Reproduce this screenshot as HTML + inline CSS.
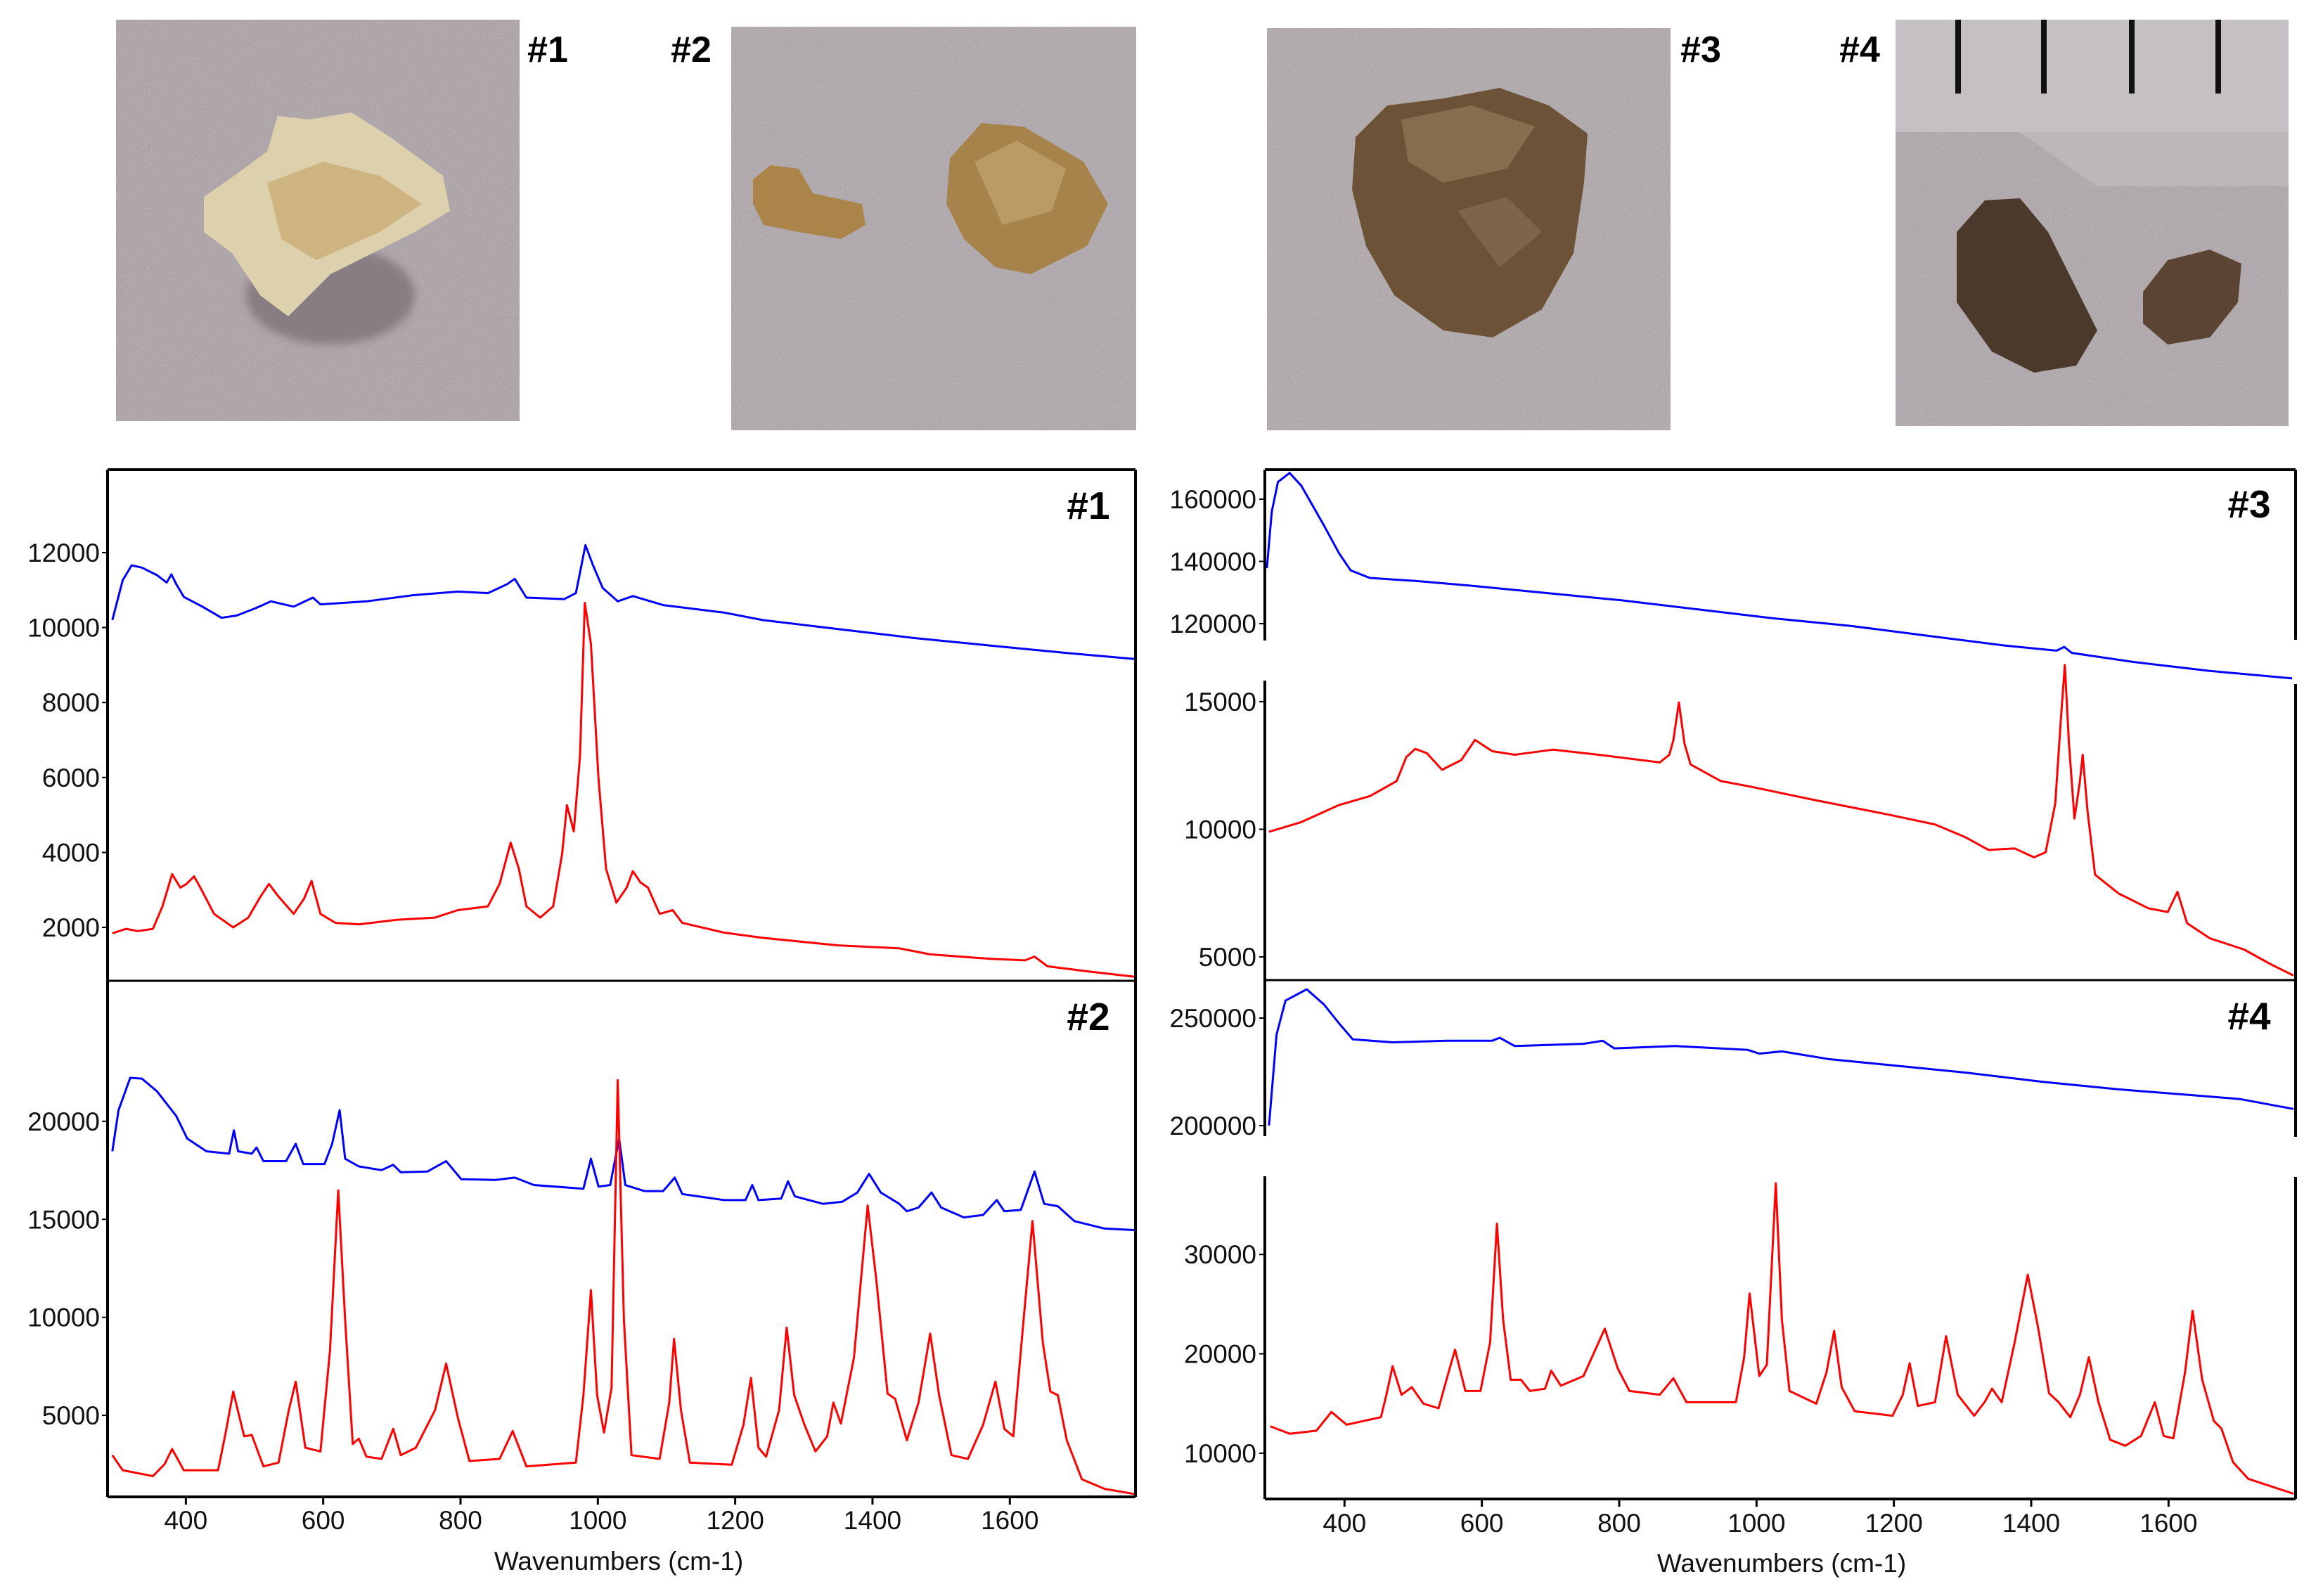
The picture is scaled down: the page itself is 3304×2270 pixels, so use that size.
<!DOCTYPE html>
<html><head><meta charset="utf-8"><style>
html,body{margin:0;padding:0;background:#fff;}
body{width:3304px;height:2270px;position:relative;overflow:hidden;font-family:"Liberation Sans",Arial,sans-serif;}
svg{position:absolute;left:0;top:0;}
</style></head><body>
<svg id="fig" width="3304" height="2270" viewBox="0 0 3304 2270" xmlns="http://www.w3.org/2000/svg">
<defs>
<filter id="speckle" x="0" y="0" width="100%" height="100%">
<feTurbulence type="fractalNoise" baseFrequency="0.9" numOctaves="2" seed="3" result="n"/>
<feColorMatrix type="matrix" values="0 0 0 0 1  0 0 0 0 1  0 0 0 0 1  1.2 0 0 0 -0.45" in="n"/>
</filter>
<filter id="blur6"><feGaussianBlur stdDeviation="6"/></filter>
</defs>
<g id="photos">
<g>
<rect x="165" y="28" width="574" height="571" fill="#a79ea2"/>
<rect x="165" y="28" width="574" height="571" filter="url(#speckle)" opacity="0.55"/>
<ellipse cx="470" cy="420" rx="120" ry="70" fill="#6e6468" opacity="0.6" filter="url(#blur6)"/>
<path d="M290 280 L340 245 L380 215 L395 165 L440 170 L500 160 L555 195 L630 250 L640 300 L590 330 L530 360 L470 390 L410 450 L370 420 L330 360 L290 330 Z" fill="#ddd0ad"/>
<path d="M380 260 L460 230 L540 250 L600 290 L540 330 L450 370 L400 340 Z" fill="#c9ad75" opacity="0.8"/>
</g>
<g>
<rect x="1040" y="38" width="576" height="574" fill="#a9a2a6"/>
<rect x="1040" y="38" width="576" height="574" filter="url(#speckle)" opacity="0.55"/>
<path d="M1071 255 L1096 235 L1136 240 L1156 275 L1226 290 L1231 320 L1196 340 L1136 330 L1086 320 L1071 290 Z" fill="#aa8448"/>
<path d="M1351 225 L1396 175 L1456 180 L1541 230 L1576 290 L1546 350 L1466 390 L1416 380 L1371 340 L1346 290 Z" fill="#a5834a"/>
<path d="M1386 230 L1446 200 L1516 240 L1496 300 L1426 320 Z" fill="#c3a470" opacity="0.7"/>
</g>
<g>
<rect x="1802" y="40" width="574" height="572" fill="#aaa3a6"/>
<rect x="1802" y="40" width="574" height="572" filter="url(#speckle)" opacity="0.55"/>
<path d="M1928 195 L1973 150 L2053 140 L2133 125 L2203 150 L2258 190 L2253 260 L2238 360 L2193 440 L2123 480 L2053 470 L1983 420 L1943 350 L1923 270 Z" fill="#6c5337"/>
<path d="M1993 170 L2093 150 L2183 180 L2143 240 L2053 260 L2003 230 Z" fill="#8e7454" opacity="0.8"/>
<path d="M2073 300 L2143 280 L2193 330 L2133 380 Z" fill="#8a7255" opacity="0.6"/>
</g>
<g>
<rect x="2696" y="28" width="559" height="578" fill="#a9a2a6"/>
<rect x="2696" y="28" width="559" height="578" filter="url(#speckle)" opacity="0.55"/>
<rect x="2696" y="28" width="559" height="160" fill="#c5c0c3"/>
<path d="M2873 188 L3255 188 L3255 265 L2983 265 Z" fill="#bdb7ba"/>
<rect x="2781" y="28" width="8" height="105" fill="#111"/>
<rect x="2903" y="28" width="8" height="105" fill="#111"/>
<rect x="3028" y="28" width="8" height="105" fill="#111"/>
<rect x="3151" y="28" width="8" height="105" fill="#111"/>
<path d="M2783 330 L2823 285 L2873 282 L2913 330 L2983 470 L2953 520 L2893 530 L2833 500 L2783 430 Z" fill="#4b392b"/>
<path d="M3048 415 L3083 370 L3143 355 L3188 375 L3183 430 L3143 480 L3083 490 L3048 460 Z" fill="#5b4434"/>
</g>
<text x="779" y="88" font-size="52" font-weight="bold" text-anchor="middle">#1</text>
<text x="983" y="88" font-size="52" font-weight="bold" text-anchor="middle">#2</text>
<text x="2419" y="88" font-size="52" font-weight="bold" text-anchor="middle">#3</text>
<text x="2645" y="88" font-size="52" font-weight="bold" text-anchor="middle">#4</text>
</g>
<g id="charts"></g>
</svg>
<script>
// ---- data: wavenumber (cm-1) and intensity arrays ----
const xTicks = [400,600,800,1000,1200,1400,1600];
const s1BlueX = [293,308,321,336,358,372,379,386,397,424,452,474,502,524,557,585,596,663,729,796,840,868,879,896,951,968,982,993,1007,1029,1051,1095,1184,1240,1350,1461,1572,1683,1783];
const s1BlueY = [10200,11260,11660,11600,11400,11200,11420,11160,10820,10560,10260,10320,10520,10700,10560,10800,10620,10700,10860,10960,10920,11160,11300,10800,10760,10920,12200,11660,11060,10700,10840,10600,10400,10200,9960,9720,9520,9320,9160];
const s1RedX = [293,313,330,352,366,380,392,401,412,424,441,469,491,508,521,535,557,572,583,596,618,652,707,763,796,840,857,873,885,896,916,935,948,955,965,974,981,990,1001,1012,1027,1042,1051,1062,1073,1090,1109,1123,1184,1240,1350,1439,1484,1572,1622,1636,1655,1716,1783];
const s1RedY = [1840,1960,1900,1960,2560,3420,3060,3160,3360,2960,2360,2000,2260,2800,3160,2820,2360,2760,3240,2360,2120,2080,2200,2260,2460,2560,3160,4260,3560,2560,2260,2560,3960,5260,4560,6560,10660,9560,5960,3560,2660,3060,3500,3200,3060,2360,2460,2120,1860,1720,1520,1440,1280,1160,1120,1220,960,820,680];
const s2BlueX = [293,302,319,336,358,386,402,430,463,470,476,496,503,513,546,560,571,602,613,624,632,652,685,702,713,752,779,801,851,879,907,979,990,1001,1018,1031,1040,1068,1095,1112,1123,1184,1215,1225,1234,1267,1277,1287,1328,1356,1378,1395,1412,1439,1450,1467,1486,1500,1533,1561,1581,1592,1616,1636,1650,1670,1694,1738,1783];
const s2BlueY = [18470,20570,22220,22180,21530,20270,19120,18470,18350,19540,18470,18350,18660,17970,17970,18850,17820,17820,18850,20570,18090,17700,17510,17780,17400,17440,17970,17050,17010,17130,16750,16560,18090,16670,16750,19120,16750,16440,16440,17130,16290,15980,15980,16750,15980,16060,16940,16170,15790,15900,16370,17320,16370,15790,15410,15600,16370,15600,15100,15220,15980,15410,15480,17440,15790,15670,14910,14530,14450];
const s2RedX = [293,308,352,369,380,397,447,458,469,485,496,513,535,550,560,574,596,610,622,632,643,652,663,685,702,713,735,763,779,796,813,857,876,896,968,979,990,999,1009,1020,1029,1038,1049,1090,1104,1111,1121,1134,1195,1212,1223,1234,1245,1264,1275,1286,1301,1317,1334,1343,1354,1373,1393,1406,1422,1433,1450,1467,1484,1497,1515,1539,1561,1579,1592,1605,1620,1633,1648,1659,1670,1683,1705,1738,1783];
const s2RedY = [2970,2200,1900,2510,3280,2200,2200,4120,6220,3930,4000,2400,2590,5270,6720,3350,3160,8330,16480,9860,3540,3810,2890,2780,4310,2970,3350,5270,7640,4890,2670,2780,4200,2400,2590,6030,11390,6030,4120,6410,22100,9860,2970,2780,5650,8900,5270,2590,2480,4510,6910,3350,2890,5270,9480,6030,4510,3160,3930,5650,4580,7950,15710,11770,6110,5840,3730,5650,9170,6030,2970,2780,4510,6720,4310,3930,9860,14910,8710,6220,6030,3730,1740,1250,980];
const s3BlueX = [287,294,303,320,337,370,392,409,437,503,581,692,804,915,1026,1137,1248,1360,1437,1448,1459,1548,1660,1780];
const s3BlueY = [137830,155900,165540,168430,164340,151570,142650,137100,134700,133730,132280,129880,127470,124570,121680,119270,116140,113000,111320,112520,110600,107700,104810,102400];
const s3RedX = [290,337,392,437,476,490,503,520,542,570,590,615,648,704,770,859,873,879,887,895,904,948,993,1082,1193,1260,1304,1338,1376,1404,1421,1435,1443,1449,1455,1463,1471,1475,1482,1493,1527,1571,1599,1613,1627,1660,1710,1749,1782];
const s3RedY = [9900,10280,10950,11300,11890,12830,13150,12980,12330,12710,13500,13060,12920,13120,12920,12620,12920,13500,14970,13360,12540,11890,11660,11160,10570,10190,9690,9190,9250,8900,9100,11010,14240,16440,13360,10420,11890,12920,10720,8220,7490,6900,6760,7550,6320,5730,5290,4710,4270];
const s4BlueX = [290,301,314,345,370,392,412,470,548,615,626,648,748,776,793,881,987,1004,1037,1104,1193,1304,1415,1526,1637,1704,1782];
const s4BlueY = [200020,242260,258100,263380,256340,247540,240140,238740,239440,239440,240850,236980,238030,239440,235920,236980,235220,233460,234510,230990,228180,224660,220430,216910,214100,212340,207760];
const s4RedX = [292,320,359,381,403,453,461,470,483,498,515,537,550,561,576,598,612,622,631,642,657,670,692,701,715,748,779,798,815,859,879,898,970,982,990,1004,1015,1028,1037,1048,1087,1102,1113,1124,1143,1198,1213,1223,1235,1260,1276,1293,1317,1332,1343,1357,1376,1395,1410,1426,1440,1457,1471,1484,1498,1515,1537,1560,1580,1593,1607,1624,1635,1649,1666,1677,1694,1716,1749,1782];
const s4RedY = [12710,11960,12260,14150,12860,13620,15880,18750,15880,16640,14980,14520,17770,20410,16260,16260,21170,33100,23430,17390,17390,16260,16490,18300,16790,17770,22530,18520,16260,15880,17540,15130,15130,19660,26070,17770,18900,37170,23430,16260,14980,18150,22300,16640,14220,13770,15880,19050,14750,15130,21770,15880,13770,15130,16490,15130,21170,27960,22680,16030,15130,13620,15880,19660,15130,11350,10750,11730,15130,11730,11500,18150,24340,17390,13240,12480,9090,7420,6670,5920];
const p1Ticks = [2000,4000,6000,8000,10000,12000];
const p2Ticks = [5000,10000,15000,20000];
const p3bTicks = [120000,140000,160000];
const p3rTicks = [5000,10000,15000];
const p4bTicks = [200000,250000];
const p4rTicks = [10000,20000,30000];

// ---- layout ----
const NS = 'http://www.w3.org/2000/svg';
const root = document.getElementById('charts');
function mk(tag, attrs, parent){const e=document.createElementNS(NS,tag);for(const k in attrs)e.setAttribute(k,attrs[k]);(parent||root).appendChild(e);return e;}
function xScale(x0,x1,d0,d1){return v=>x0+(v-d0)/(d1-d0)*(x1-x0);}
function yScale(top,bot,dmin,dmax){return v=>bot-(v-dmin)/(dmax-dmin)*(bot-top);}
const L={x0:153,x1:1615}, R={x0:1799,x1:3265};
const xL=xScale(L.x0,L.x1,286,1783), xR=xScale(R.x0,R.x1,284,1785);

function series(xs,ys,sx,sy,color,name){
  let d='';
  for(let i=0;i<xs.length;i++){d+=(i?'L':'M')+sx(xs[i]).toFixed(1)+' '+sy(ys[i]).toFixed(1);}
  const p=mk('path',{d:d,fill:'none',stroke:color,'stroke-width':3,'stroke-linejoin':'round'});
  
  
}
function yAxis(x,top,bot,sy,ticks,name,labelX){
  const g=mk('g',{});
  
  
  mk('line',{x1:x,y1:top,x2:x,y2:bot,stroke:'#000','stroke-width':4},g);
  ticks.forEach(t=>{
    const y=sy(t);
    mk('line',{x1:x-8,y1:y,x2:x,y2:y,stroke:'#000','stroke-width':2},g);
    const tx=mk('text',{x:labelX,y:y+13,'font-size':37,'text-anchor':'end',fill:'#111'},g);
    tx.textContent=t;
    
    
  });
}
function xAxisLabels(sx,axisY,y,cx,ty){
  xTicks.forEach(t=>{
    mk('line',{x1:sx(t),y1:axisY,x2:sx(t),y2:axisY+11,stroke:'#000','stroke-width':3});
    const tx=mk('text',{x:sx(t),y:y,'font-size':37,'text-anchor':'middle',fill:'#111'});
    tx.textContent=t;
    
    
  });
  const tt=mk('text',{x:cx,y:ty,'font-size':37,'text-anchor':'middle',fill:'#111'});
  tt.textContent='Wavenumbers (cm-1)';
  
  
}
function hline(x1,x2,y,w){mk('line',{x1:x1,y1:y,x2:x2,y2:y,stroke:'#000','stroke-width':w||3});}
function vline(x,y1,y2){mk('line',{x1:x,y1:y1,x2:x,y2:y2,stroke:'#000','stroke-width':4});}
function label(txt,x,y,name){const t=mk('text',{x:x,y:y,'font-size':55,'font-weight':'bold','text-anchor':'middle'});t.textContent=txt;}

// Left: panel #1 and #2
const y1=yScale(668,1395,574,14214);
const y2=yScale(1395,2129,842,27168);
series(s1BlueX,s1BlueY,xL,y1,'#0000ff','spectrum-1-blue');
series(s1RedX,s1RedY,xL,y1,'#ff0000','spectrum-1-red');
series(s2BlueX,s2BlueY,xL,y2,'#0000ff','spectrum-2-blue');
series(s2RedX,s2RedY,xL,y2,'#ff0000','spectrum-2-red');
hline(L.x0,L.x1,668,4);hline(L.x0,L.x1,1395,3);hline(L.x0,L.x1,2129,4);vline(L.x1,668,2129);
yAxis(L.x0,668,1395,y1,p1Ticks,'y-axis-panel-1',142);
yAxis(L.x0,1395,2129,y2,p2Ticks,'y-axis-panel-2',142);
label('#1',1548,738,'panel-label-1');
label('#2',1548,1465,'panel-label-2');
xAxisLabels(xL,2129,2175,880,2233);

// Right: panel #3 and #4
const y3b=yScale(668,911,114576,169492);
const y3r=yScale(968,1393,4118,15826);
const y4b=yScale(1393,1616,195098,267974);
const y4r=yScale(1673,2132,5390,37872);
series(s3BlueX,s3BlueY,xR,y3b,'#0000ff','spectrum-3-blue');
series(s3RedX,s3RedY,xR,y3r,'#ff0000','spectrum-3-red');
series(s4BlueX,s4BlueY,xR,y4b,'#0000ff','spectrum-4-blue');
series(s4RedX,s4RedY,xR,y4r,'#ff0000','spectrum-4-red');
hline(R.x0,R.x1,668,4);hline(R.x0,R.x1,1394,3);hline(R.x0,R.x1,2132,4);
vline(R.x1,668,910);vline(R.x1,973,1617);vline(R.x1,1674,2132);
yAxis(R.x0,668,911,y3b,p3bTicks,'y-axis-panel-3-blue',1787);
yAxis(R.x0,968,1393,y3r,p3rTicks,'y-axis-panel-3-red',1787);
yAxis(R.x0,1393,1616,y4b,p4bTicks,'y-axis-panel-4-blue',1787);
yAxis(R.x0,1673,2132,y4r,p4rTicks,'y-axis-panel-4-red',1787);
label('#3',3199,736,'panel-label-3');
label('#4',3199,1464,'panel-label-4');
xAxisLabels(xR,2132,2179,2534,2236);
</script>
</body></html>
